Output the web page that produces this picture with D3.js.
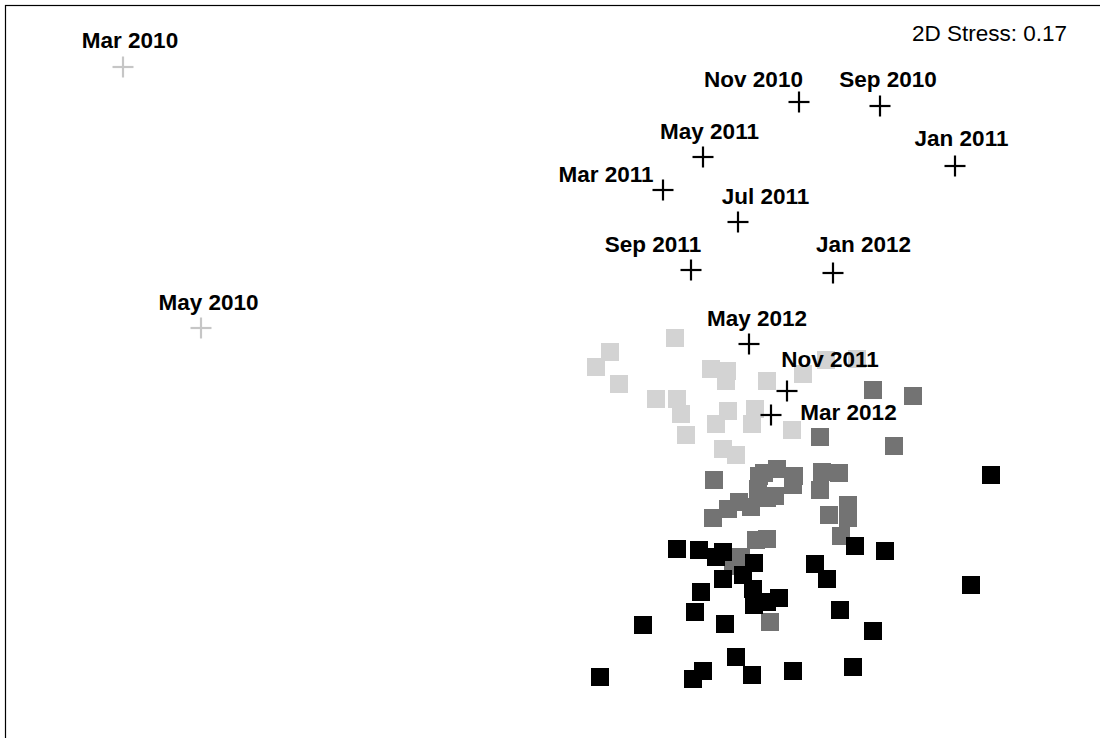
<!DOCTYPE html>
<html>
<head>
<meta charset="utf-8">
<script src="https://cdn.jsdelivr.net/npm/d3@7"></script>
<style>
  html, body { margin: 0; padding: 0; background: #fff; }
  svg { display: block; }
  text { font-family: "Liberation Sans", Arial, Helvetica, sans-serif; }
</style>
</head>
<body>
<div id="chart"></div>
<script>
// ---- Data (NMDS ordination scores) ----
const months = ["Mar 2010","May 2010","Sep 2010","Nov 2010","Jan 2011","Mar 2011","May 2011","Jul 2011","Sep 2011","Nov 2011","Jan 2012","Mar 2012","May 2012"];
const monthX = [-1.194,-1.038, 0.320, 0.158, 0.470,-0.114,-0.034, 0.036,-0.058, 0.134, 0.226, 0.102, 0.058];
const monthY = [ 0.666, 0.144, 0.588, 0.596, 0.468, 0.420, 0.486, 0.356, 0.260, 0.018, 0.254,-0.030, 0.112];
const monthPhase = ["before","before","after","after","after","after","after","after","after","after","after","after","after"];
// label anchor positions (text centre / baseline) in ordination units
const labelX = [-1.180,-1.023, 0.336, 0.067, 0.483,-0.228,-0.021, 0.091,-0.134, 0.220, 0.287, 0.257, 0.074];
const labelY = [ 0.704, 0.180, 0.626, 0.626, 0.508, 0.436, 0.522, 0.392, 0.296, 0.066, 0.296,-0.040, 0.148];

// sample scores, three groups
const groupAX = [-0.090,-0.220,-0.248,-0.202,-0.018, 0.014, 0.012, 0.094,-0.128,-0.086,-0.078,-0.068, 0.016,-0.008, 0.070, 0.064, 0.006, 0.032, 0.166, 0.212, 0.274, 0.144];
const groupAY = [ 0.124, 0.096, 0.066, 0.032, 0.062, 0.058, 0.038, 0.038, 0.002, 0.002,-0.028,-0.070,-0.022,-0.048,-0.018,-0.048,-0.098,-0.110, 0.052, 0.080, 0.082,-0.060];

const groupBX = [ 0.306, 0.386, 0.200, 0.348,-0.012, 0.114, 0.088, 0.078, 0.148, 0.076, 0.110, 0.146, 0.094, 0.062, 0.038, 0.016,-0.014, 0.204, 0.238, 0.200, 0.256, 0.256, 0.218, 0.242, 0.072, 0.094, 0.042, 0.026, 0.100];
const groupBY = [ 0.020, 0.008,-0.074,-0.092,-0.160,-0.138,-0.146,-0.152,-0.152,-0.178,-0.192,-0.170,-0.196,-0.214,-0.204,-0.218,-0.236,-0.144,-0.146,-0.180,-0.210,-0.236,-0.230,-0.272,-0.280,-0.278,-0.314,-0.332,-0.444];

const groupCX = [-0.086,-0.042, 0.006,-0.008, 0.068, 0.006, 0.046,-0.038, 0.066, 0.068, 0.094, 0.118,-0.050, 0.010,-0.154, 0.032, 0.064,-0.034,-0.054,-0.240, 0.542, 0.270, 0.330, 0.190, 0.214, 0.502, 0.240, 0.306, 0.146, 0.266];
const groupCY = [-0.298,-0.300,-0.304,-0.314,-0.326,-0.358,-0.350,-0.384,-0.378,-0.410,-0.404,-0.396,-0.424,-0.448,-0.450,-0.514,-0.550,-0.542,-0.558,-0.554,-0.150,-0.292,-0.302,-0.328,-0.358,-0.370,-0.420,-0.462,-0.542,-0.534];

const stressText = "2D Stress: 0.17";

// ---- Chart ----
const W = 1100, H = 738;
const svg = d3.select("#chart").append("svg").attr("width", W).attr("height", H);

const x = d3.scaleLinear().domain([-1.44, 0.76]).range([0, W]);
const y = d3.scaleLinear().domain([0.8, -0.676]).range([0, H]);

// frame
svg.append("rect")
  .attr("x", 5.5).attr("y", 5.5)
  .attr("width", W + 10).attr("height", H + 10)
  .attr("fill", "none").attr("stroke", "#000").attr("stroke-width", 1.2);

const sq = d3.symbol().type(d3.symbolSquare).size(18 * 18);

const groups = [
  { xs: groupAX, ys: groupAY, color: "#d3d3d3" },
  { xs: groupBX, ys: groupBY, color: "#737373" },
  { xs: groupCX, ys: groupCY, color: "#000000" }
];
groups.forEach(g => {
  svg.append("g").selectAll("path")
    .data(g.xs.map((v, i) => [v, g.ys[i]]))
    .join("path")
    .attr("d", sq)
    .attr("transform", d => `translate(${x(d[0])},${y(d[1])})`)
    .attr("fill", g.color);
});

// month centroids as crosses
const crossColor = d3.scaleOrdinal().domain(["before", "after"]).range(["#c6c6c6", "#000000"]);
const cg = svg.append("g");
months.forEach((m, i) => {
  const cx = x(monthX[i]), cy = y(monthY[i]);
  const g = cg.append("g").attr("transform", `translate(${cx},${cy})`);
  g.append("line").attr("x1", -10.5).attr("x2", 10.5).attr("y1", 0).attr("y2", 0)
    .attr("stroke", crossColor(monthPhase[i])).attr("stroke-width", 2.2);
  g.append("line").attr("x1", 0).attr("x2", 0).attr("y1", -10.5).attr("y2", 10.5)
    .attr("stroke", crossColor(monthPhase[i])).attr("stroke-width", 2.2);
});

// labels
svg.append("g").selectAll("text")
  .data(months)
  .join("text")
  .attr("x", (d, i) => x(labelX[i]))
  .attr("y", (d, i) => y(labelY[i]))
  .attr("text-anchor", "middle")
  .attr("font-size", 22.5)
  .attr("font-weight", "bold")
  .attr("fill", "#000")
  .text(d => d);

svg.append("text")
  .attr("x", 1067).attr("y", 41)
  .attr("text-anchor", "end")
  .attr("font-size", 22.5)
  .attr("fill", "#000")
  .text(stressText);
</script>
</body>
</html>
